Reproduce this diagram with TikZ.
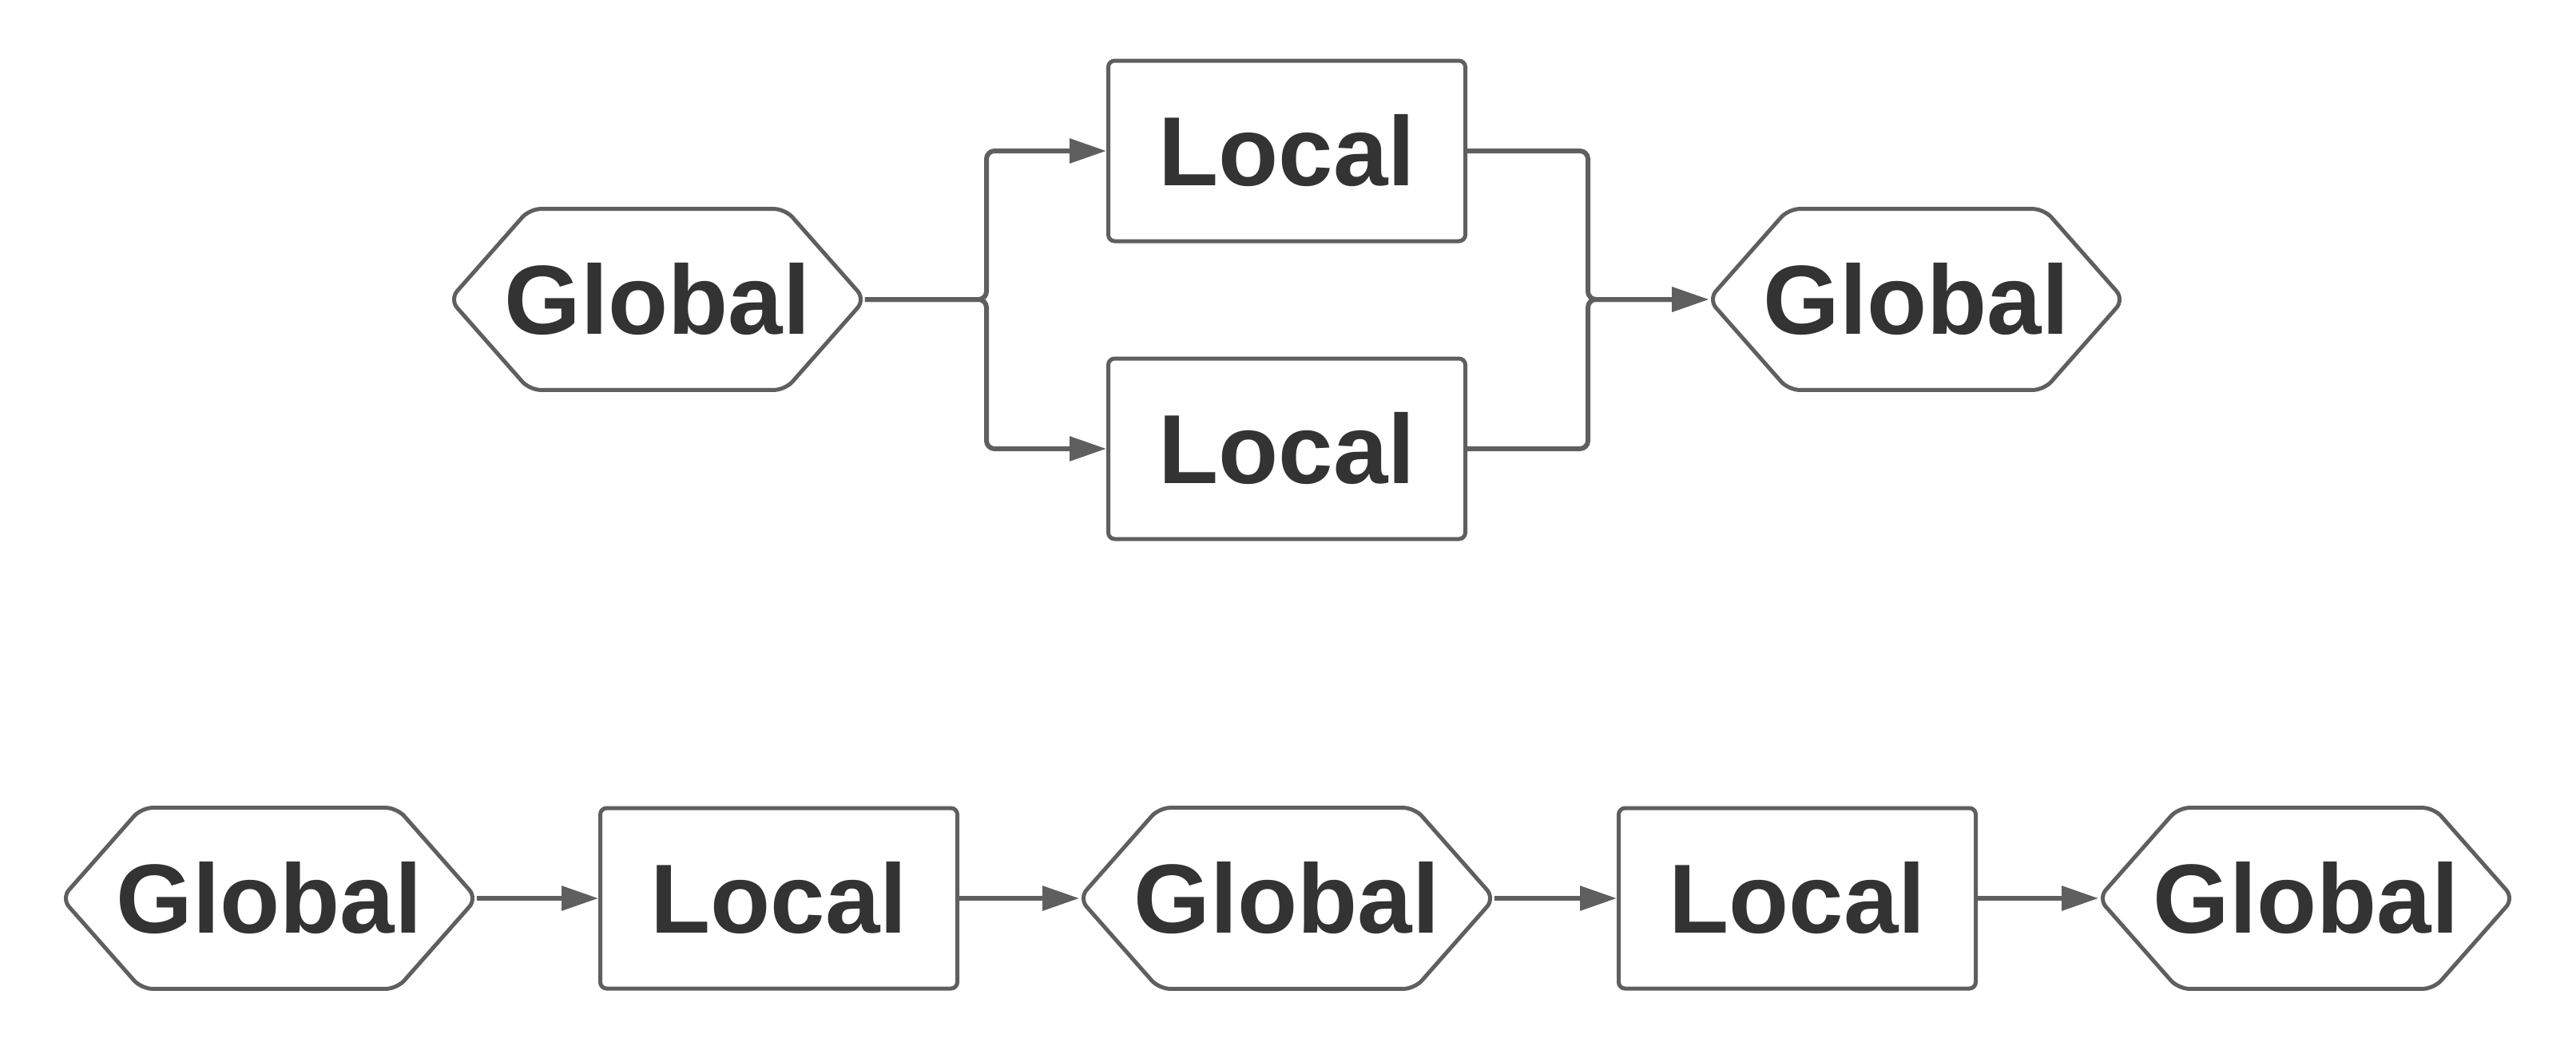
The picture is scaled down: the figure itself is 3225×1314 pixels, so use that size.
\documentclass[tikz,border=0pt]{standalone}
\usepackage{fontspec}
\setmainfont{Liberation Sans}
\usetikzlibrary{arrows.meta}
\definecolor{edgec}{HTML}{5F5F5F}
\definecolor{txtc}{HTML}{333333}
\newcommand\hexoutline[1]{%
  \draw[hexline] (#1.west) -- ([xshift=50pt]#1.north west) -- ([xshift=-50pt]#1.north east)
    -- (#1.east) -- ([xshift=-50pt]#1.south east) -- ([xshift=50pt]#1.south west) -- cycle;}
\begin{document}
\begin{tikzpicture}[x=0.5pt,y=-0.5pt,
  lbl/.style={text=txtc, font=\fontsize{61.5}{70}\selectfont\bfseries, inner sep=0pt},
  box/.style={lbl, draw=edgec, line width=2.5pt, rounded corners=4pt,
    minimum width=223.5pt, minimum height=113pt},
  hexnode/.style={lbl, minimum width=259.5pt, minimum height=113pt},
  hexline/.style={draw=edgec, line width=2.5pt, rounded corners=7pt, fill=white},
  conn/.style={draw=edgec, line width=3pt, rounded corners=5pt,
    -{Triangle[length=23pt,width=15pt]}}]
\useasboundingbox (0,0) rectangle (3225,1314);
% top group
\node[hexnode] (G1) at (823,375) {};
\node[box] (L1) at (1611,189) {Local};
\node[box] (L2) at (1611,562) {Local};
\node[hexnode] (G2) at (2399,375) {};
\hexoutline{G1}
\hexoutline{G2}
\node[lbl] at (G1) {Global};
\node[lbl] at (G2) {Global};
\coordinate (J1) at (1235,375);
\coordinate (J2) at (1988,375);
\draw[conn] (G1.east) -- (J1) |- (L1.west);
\draw[conn] (G1.east) -- (J1) |- (L2.west);
\draw[conn] (L1.east) -| (J2) -- (G2.west);
\draw[conn] (L2.east) -| (J2) -- (G2.west);
% bottom chain
\node[hexnode] (G3) at (337,1125) {};
\node[box] (L3) at (975,1125) {Local};
\node[hexnode] (G4) at (1611,1125) {};
\node[box] (L4) at (2250,1125) {Local};
\node[hexnode] (G5) at (2887,1125) {};
\hexoutline{G3}
\hexoutline{G4}
\hexoutline{G5}
\node[lbl] at (G3) {Global};
\node[lbl] at (G4) {Global};
\node[lbl] at (G5) {Global};
\draw[conn] (G3.east) -- (L3.west);
\draw[conn] (L3.east) -- (G4.west);
\draw[conn] (G4.east) -- (L4.west);
\draw[conn] (L4.east) -- (G5.west);
\end{tikzpicture}
\end{document}
